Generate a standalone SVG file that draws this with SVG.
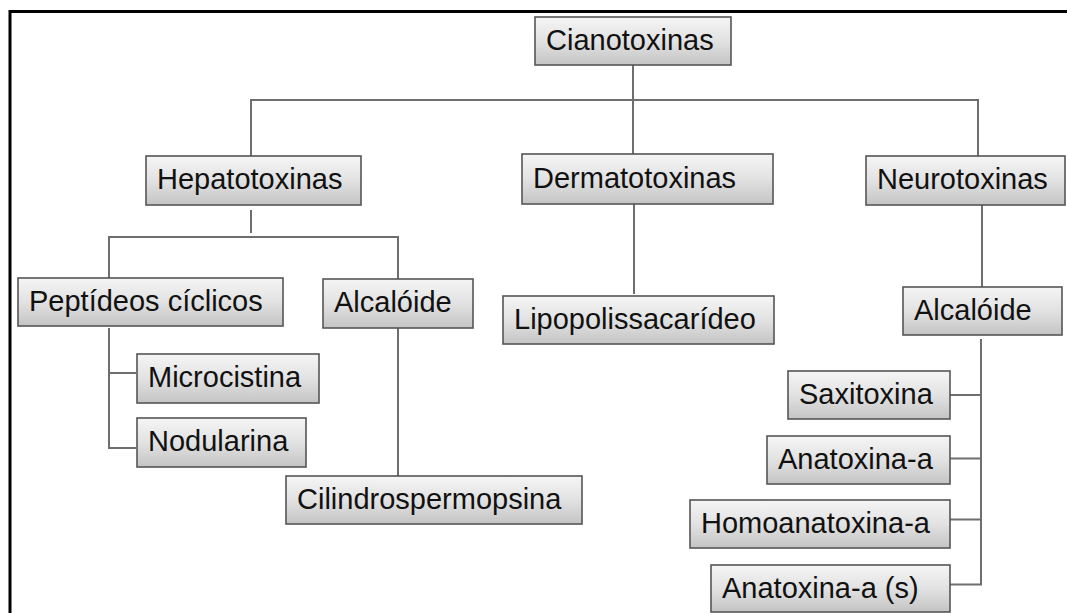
<svg xmlns="http://www.w3.org/2000/svg" width="1067" height="613" viewBox="0 0 1067 613">
<defs>
<linearGradient id="g" x1="0" y1="0" x2="0" y2="1">
<stop offset="0" stop-color="#f5f5f5"/>
<stop offset="0.5" stop-color="#e2e2e2"/>
<stop offset="1" stop-color="#c4c4c4"/>
</linearGradient>
<style>
.box{fill:url(#g);stroke:#555;stroke-width:1.6}
.t{font-family:"Liberation Sans",Arial,sans-serif;font-size:29px;fill:#111}
.c{fill:none;stroke:#6e6e6e;stroke-width:2}
.frame{fill:none;stroke:#000;stroke-width:3}
</style>
</defs>
<rect width="1067" height="613" fill="#fff"/>
<path class="frame" d="M10,613 V11.5 H1067"/>
<g id="connectors">
<path class="c" d="M251,156 V100 H978 V156"/>
<path class="c" d="M633,65 V154"/>
<path class="c" d="M251,210 V233"/>
<path class="c" d="M109,278 V237 H398 V279"/>
<path class="c" d="M109,328 V448 H136 M109,373 H136"/>
<path class="c" d="M398,328 V476"/>
<path class="c" d="M634,204 V294"/>
<path class="c" d="M982,205 V287"/>
<path class="c" d="M981,339 V584.5 H950 M950,395 H981 M950,458.5 H981 M950,519.5 H981"/>
</g>
<g id="cianotoxinas"><rect class="box" x="535" y="17" width="196" height="48"/><text class="t" x="546" y="50">Cianotoxinas</text></g>
<g id="hepatotoxinas"><rect class="box" x="146" y="156" width="215" height="49"/><text class="t" x="157" y="189">Hepatotoxinas</text></g>
<g id="dermatotoxinas"><rect class="box" x="522" y="154" width="251" height="50"/><text class="t" x="533" y="188">Dermatotoxinas</text></g>
<g id="neurotoxinas"><rect class="box" x="866" y="156" width="199" height="49"/><text class="t" x="877" y="189">Neurotoxinas</text></g>
<g id="peptideos"><rect class="box" x="18" y="278" width="265" height="48"/><text class="t" x="29" y="311">Peptídeos cíclicos</text></g>
<g id="alcaloide1"><rect class="box" x="323" y="279" width="150" height="49"/><text class="t" x="334" y="312">Alcalóide</text></g>
<g id="lipopolissacarideo"><rect class="box" x="503" y="296" width="271" height="48"/><text class="t" x="514" y="329">Lipopolissacarídeo</text></g>
<g id="alcaloide2"><rect class="box" x="903" y="287" width="159" height="48"/><text class="t" x="914" y="320">Alcalóide</text></g>
<g id="microcistina"><rect class="box" x="137" y="354" width="182" height="49"/><text class="t" x="148" y="387">Microcistina</text></g>
<g id="nodularina"><rect class="box" x="137" y="418" width="169" height="49"/><text class="t" x="148" y="451">Nodularina</text></g>
<g id="cilindrospermopsina"><rect class="box" x="286" y="476" width="296" height="48"/><text class="t" x="297" y="509">Cilindrospermopsina</text></g>
<g id="saxitoxina"><rect class="box" x="788" y="371" width="162" height="48"/><text class="t" x="799" y="404">Saxitoxina</text></g>
<g id="anatoxina-a"><rect class="box" x="767" y="436" width="183" height="48"/><text class="t" x="778" y="469">Anatoxina-a</text></g>
<g id="homoanatoxina-a"><rect class="box" x="690" y="500" width="260" height="48"/><text class="t" x="701" y="533">Homoanatoxina-a</text></g>
<g id="anatoxina-a-s"><rect class="box" x="711" y="565" width="239" height="47"/><text class="t" x="722" y="598">Anatoxina-a (s)</text></g>
</svg>
